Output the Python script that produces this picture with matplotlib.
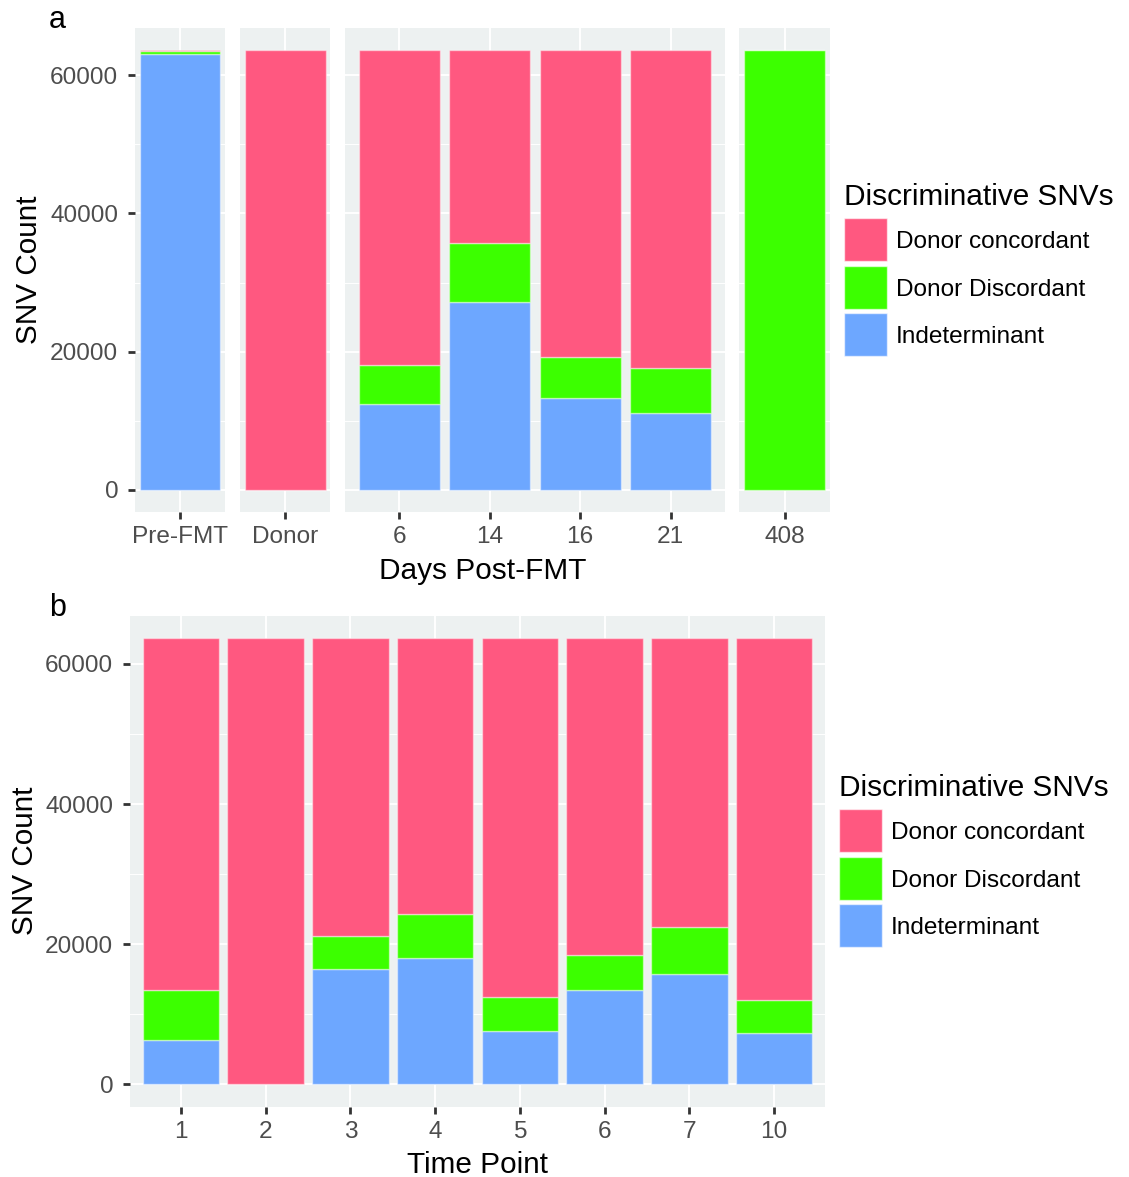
import matplotlib
matplotlib.use("Agg")
import matplotlib.pyplot as plt
from matplotlib.patches import Rectangle
from matplotlib.ticker import MultipleLocator, FixedLocator
import numpy as np

plt.rcParams['font.family'] = ['Liberation Sans', 'DejaVu Sans']

# ---------------- data ----------------
categories = ["Donor concordant", "Donor Discordant", "Indeterminant"]

# panel a
a_samples = ["Pre-FMT", "Donor", "6", "14", "16", "21", "408"]
a_facet = [0, 1, 2, 2, 2, 2, 3]
a_indet = [63100, 0, 12400, 27200, 13300, 11100, 0]
a_discord = [350, 0, 5700, 8500, 5900, 6600, 63650]
a_concord = [200, 63650, 45550, 27950, 44450, 45950, 0]

# panel b
b_samples = ["1", "2", "3", "4", "5", "6", "7", "10"]
b_indet = [6300, 0, 16400, 18100, 7600, 13500, 15800, 7400]
b_discord = [7100, 0, 4800, 6200, 4900, 5000, 6600, 4700]
b_concord = [50250, 63650, 42450, 39350, 51150, 45150, 41250, 51550]

y_ticks = [0, 20000, 40000, 60000]
y_ticklabels = ["0", "20000", "40000", "60000"]

# ---------------- style ----------------
C_RED = "#FF5880"
C_GREEN = "#3CFF00"
C_BLUE = "#6DA7FF"
colors = [C_RED, C_GREEN, C_BLUE]
PANEL_BG = "#EDF1F1"
EDGE = (1, 1, 1, 0.45)
TICK_FS = 17.6
TITLE_FS = 21.4
TICK_COL = "#4D4D4D"

W, H = 1129, 1177
fig = plt.figure(figsize=(W / 100, H / 100), dpi=100)


def box(l, t, r, b):
    return [l / W, 1 - b / H, (r - l) / W, (b - t) / H]


def style_axes(ax, ymax, show_y):
    ax.set_facecolor(PANEL_BG)
    for s in ax.spines.values():
        s.set_visible(False)
    ax.set_axisbelow(True)
    ax.set_ylim(-0.05 * ymax, 1.05 * ymax)
    ax.yaxis.set_major_locator(FixedLocator(y_ticks))
    ax.yaxis.set_minor_locator(MultipleLocator(10000))
    ax.grid(which="major", color="white", lw=1.4)
    ax.grid(which="minor", axis="y", color="white", lw=0.7)
    ax.tick_params(which="minor", length=0)
    ax.tick_params(axis="x", which="major", length=5, width=2, color="#333333",
                   labelsize=TICK_FS, labelcolor=TICK_COL, pad=5)
    if show_y:
        ax.set_yticklabels(y_ticklabels)
        ax.tick_params(axis="y", which="major", length=5, width=2, color="#333333",
                       labelsize=TICK_FS, labelcolor=TICK_COL, pad=7)
    else:
        ax.tick_params(axis="y", which="major", length=0, labelleft=False)


def draw_stack(ax, x, indet, discord, concord, width):
    indet = np.asarray(indet, float)
    discord = np.asarray(discord, float)
    concord = np.asarray(concord, float)
    ax.bar(x, indet, width=width, color=C_BLUE, edgecolor=EDGE, lw=1)
    ax.bar(x, discord, width=width, bottom=indet, color=C_GREEN, edgecolor=EDGE, lw=1)
    ax.bar(x, concord, width=width, bottom=indet + discord, color=C_RED, edgecolor=EDGE, lw=1)


# ---------------- panel a ----------------
a_tot = max(np.array(a_indet) + np.array(a_discord) + np.array(a_concord))
facet_px = [(135, 225), (240, 330), (345, 725), (739, 830)]
for fi, (l, r) in enumerate(facet_px):
    ax = fig.add_axes(box(l, 28, r, 512))
    idx = [i for i, f in enumerate(a_facet) if f == fi]
    n = len(idx)
    x = np.arange(n)
    draw_stack(ax, x, [a_indet[i] for i in idx], [a_discord[i] for i in idx],
               [a_concord[i] for i in idx], 0.9)
    if n == 1:
        ax.set_xlim(-0.5, 0.5)
    else:
        ax.set_xlim(-0.6, n - 1 + 0.6)
    ax.set_xticks(x)
    ax.set_xticklabels([a_samples[i] for i in idx])
    style_axes(ax, a_tot, fi == 0)

fig.text(49 / W, 1 - 28 / H, "a", fontsize=22, ha="left", va="baseline")
fig.text(29 / W, 1 - 270 / H, "SNV Count", fontsize=TITLE_FS, rotation=90,
         ha="center", va="center")
fig.text(482.5 / W, 1 - 579 / H, "Days Post-FMT", fontsize=TITLE_FS,
         ha="center", va="baseline")

# ---------------- panel b ----------------
b_tot = max(np.array(b_indet) + np.array(b_discord) + np.array(b_concord))
axb = fig.add_axes(box(130, 616, 825, 1106.7))
xb = np.arange(len(b_samples))
draw_stack(axb, xb, b_indet, b_discord, b_concord, 0.9)
axb.set_xlim(-0.6, len(b_samples) - 1 + 0.6)
axb.set_xticks(xb)
axb.set_xticklabels(b_samples)
style_axes(axb, b_tot, True)

fig.text(49 / W, 1 - 616 / H, "b", fontsize=22, ha="left", va="baseline")
fig.text(25 / W, 1 - 861 / H, "SNV Count", fontsize=TITLE_FS, rotation=90,
         ha="center", va="center")
fig.text(477.5 / W, 1 - 1173 / H, "Time Point", fontsize=TITLE_FS,
         ha="center", va="baseline")


# ---------------- legends ----------------
def draw_legend(x0, title_base, key_tops):
    fig.text(x0 / W, 1 - title_base / H, "Discriminative SNVs", fontsize=TITLE_FS,
             ha="left", va="baseline")
    for lab, col, kt in zip(categories, colors, key_tops):
        fig.patches.append(Rectangle((x0 / W, 1 - (kt + 43) / H), 43 / W, 43 / H,
                                     transform=fig.transFigure, facecolor=col,
                                     edgecolor=(1, 1, 1, 0.6), lw=1))
        fig.text((x0 + 52) / W, 1 - (kt + 21.5) / H, lab, fontsize=TICK_FS,
                 ha="left", va="center_baseline")


draw_legend(844, 205, [218.3, 265.7, 312.7])
draw_legend(839, 796, [809.3, 856.7, 903.7])

fig.savefig("out.png", dpi=100)
